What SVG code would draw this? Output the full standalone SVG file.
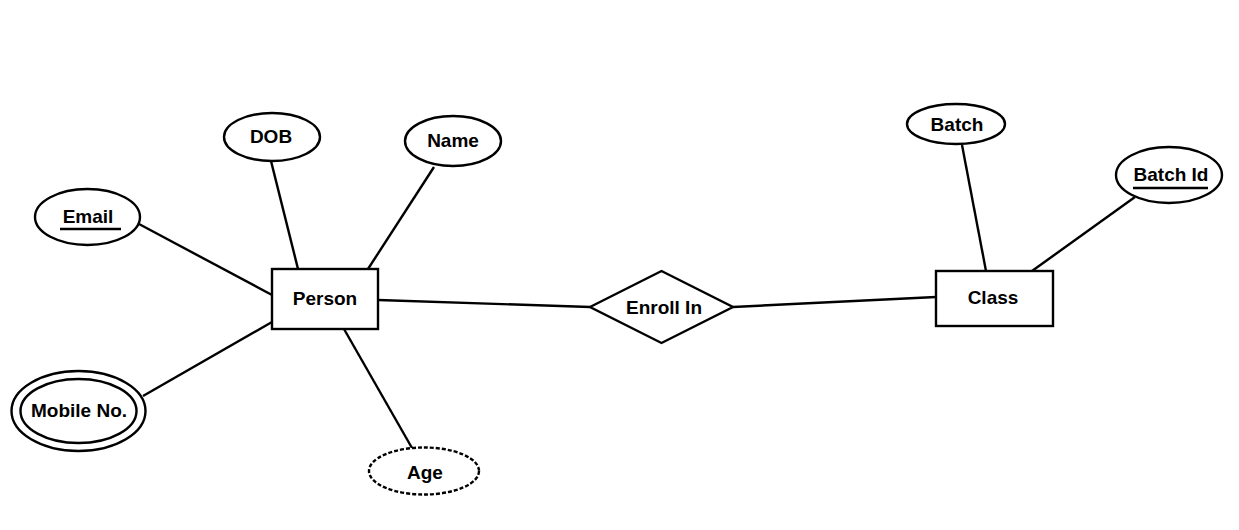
<svg xmlns="http://www.w3.org/2000/svg" width="1239" height="530" viewBox="0 0 1239 530">
  <style>
    .shape { fill: #fff; stroke: #000; stroke-width: 2.4; }
    .dashed { stroke-dasharray: 4 2; }
    .conn { stroke: #000; stroke-width: 2.4; fill: none; }
    .lbl { font-family: "Liberation Sans", Arial, sans-serif; font-weight: bold; font-size: 19px; fill: #000; text-anchor: middle; dominant-baseline: central; }
    .ul { stroke: #000; stroke-width: 2.4; }
  </style>
  <rect width="1239" height="530" fill="#fff"/>

  <!-- connectors -->
  <g id="connectors">
    <line class="conn" x1="271" y1="161" x2="298" y2="269"/>
    <line class="conn" x1="434" y1="167" x2="368" y2="269"/>
    <line class="conn" x1="139" y1="224" x2="272" y2="295"/>
    <line class="conn" x1="143" y1="396" x2="272" y2="322"/>
    <line class="conn" x1="344" y1="329" x2="412" y2="448"/>
    <line class="conn" x1="378" y1="300" x2="590" y2="307"/>
    <line class="conn" x1="733" y1="307" x2="936" y2="297"/>
    <line class="conn" x1="962" y1="145" x2="986" y2="271"/>
    <line class="conn" x1="1135" y1="197" x2="1032" y2="271"/>
  </g>

  <!-- entities -->
  <g id="person">
    <rect class="shape" x="272" y="269" width="106" height="60"/>
    <text class="lbl" x="325" y="298">Person</text>
  </g>
  <g id="class">
    <rect class="shape" x="936" y="271" width="117" height="55"/>
    <text class="lbl" x="993" y="297">Class</text>
  </g>

  <!-- relationship -->
  <g id="enroll-in">
    <polygon class="shape" points="590,307 661.5,271 733,307 661.5,343"/>
    <text class="lbl" x="664" y="307">Enroll In</text>
  </g>

  <!-- attributes of Person -->
  <g id="dob">
    <ellipse class="shape" cx="272" cy="137" rx="48" ry="24"/>
    <text class="lbl" x="271" y="136">DOB</text>
  </g>
  <g id="name">
    <ellipse class="shape" cx="453" cy="141" rx="48" ry="25"/>
    <text class="lbl" x="453" y="140">Name</text>
  </g>
  <g id="email">
    <ellipse class="shape" cx="87.5" cy="217" rx="52.5" ry="28"/>
    <text class="lbl" x="88" y="216">Email</text>
    <line class="ul" x1="60" y1="229" x2="121" y2="229"/>
  </g>
  <g id="mobile-no">
    <ellipse class="shape" cx="78.5" cy="411" rx="67" ry="40"/>
    <ellipse class="shape" cx="78.5" cy="411" rx="58" ry="32"/>
    <text class="lbl" x="79" y="410">Mobile No.</text>
  </g>
  <g id="age">
    <ellipse class="shape dashed" cx="424" cy="471" rx="55" ry="23.5"/>
    <text class="lbl" x="425" y="472">Age</text>
  </g>

  <!-- attributes of Class -->
  <g id="batch">
    <ellipse class="shape" cx="956" cy="124" rx="49" ry="20"/>
    <text class="lbl" x="957" y="124">Batch</text>
  </g>
  <g id="batch-id">
    <ellipse class="shape" cx="1169" cy="175" rx="53" ry="28"/>
    <text class="lbl" x="1171" y="174">Batch Id</text>
    <line class="ul" x1="1133" y1="188" x2="1208" y2="188"/>
  </g>
</svg>
